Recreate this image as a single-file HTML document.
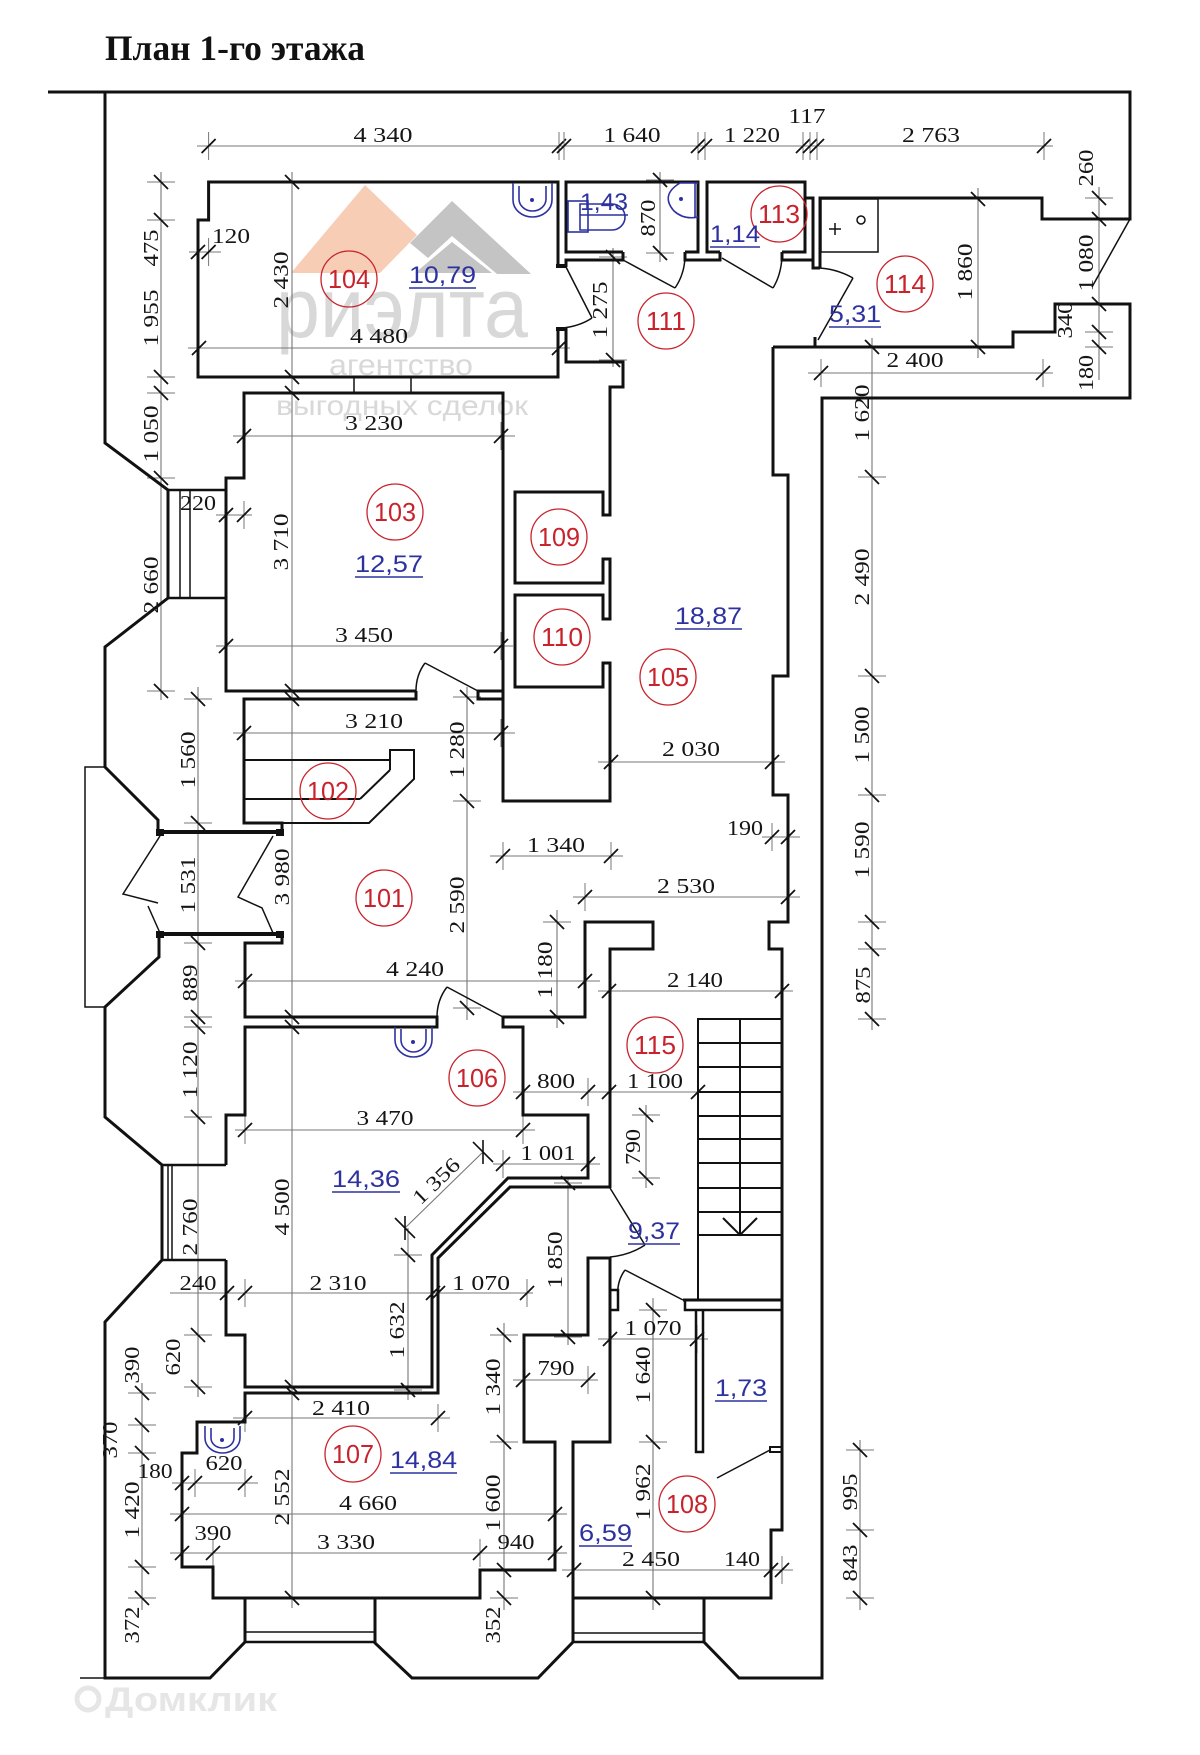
<!DOCTYPE html>
<html>
<head>
<meta charset="utf-8">
<style>
html,body{margin:0;padding:0;background:#fff;}
svg{display:block;}
.d{font-family:"Liberation Serif",serif;font-size:21px;fill:#151515;}
.r{font-family:"Liberation Sans",sans-serif;font-size:26px;fill:#c8232c;text-anchor:middle;}
.b{font-family:"Liberation Sans",sans-serif;font-size:24px;fill:#2d32a0;}
</style>
</head>
<body>
<svg xmlns="http://www.w3.org/2000/svg" width="1200" height="1755" viewBox="0 0 1200 1755">
<defs>
<g id="th"><line x1="0" y1="-14" x2="0" y2="14" stroke="#777" stroke-width="1"/><line x1="-7" y1="7" x2="7" y2="-7" stroke="#111" stroke-width="1.8"/></g>
<g id="tv"><line x1="-14" y1="0" x2="14" y2="0" stroke="#777" stroke-width="1"/><line x1="-7" y1="-7" x2="7" y2="7" stroke="#111" stroke-width="1.8"/></g>
</defs>
<rect width="1200" height="1755" fill="#fff"/>

<!-- watermark -->
<polygon points="291,273 365,185 417,235 380,273" fill="#f7cdb6"/>
<polygon points="410,243 452,201 531,274 497,274 452,236 428,258" fill="#c4c4c4"/>
<polygon points="415,273 452,242 492,273" fill="#c4c4c4"/>
<text x="276" y="337" font-family="Liberation Sans, sans-serif" font-size="84" fill="#d8d8d8" textLength="252" lengthAdjust="spacingAndGlyphs">риэлта</text>
<text x="329" y="375" font-family="Liberation Sans, sans-serif" font-size="30" fill="#d8d8d8" textLength="144" lengthAdjust="spacingAndGlyphs">агентство</text>
<text x="276" y="415" font-family="Liberation Sans, sans-serif" font-size="28" fill="#d8d8d8" textLength="252" lengthAdjust="spacingAndGlyphs">выгодных сделок</text>
<circle cx="88" cy="1699" r="11" fill="none" stroke="#e6e6e6" stroke-width="5"/>
<text x="105" y="1711" font-family="Liberation Sans, sans-serif" font-size="34" font-weight="bold" fill="#e6e6e6" textLength="172" lengthAdjust="spacingAndGlyphs">Домклик</text>

<!-- title -->
<text x="105" y="60" font-family="Liberation Serif, serif" font-size="36" font-weight="bold" fill="#111" textLength="260" lengthAdjust="spacingAndGlyphs">План 1-го этажа</text>

<!-- dimension lines -->
<g stroke="#777" stroke-width="1.1" fill="none">
<line x1="197" y1="146" x2="1053" y2="146"/>
<line x1="189" y1="252" x2="221" y2="252"/>
<line x1="188" y1="348" x2="570" y2="348"/>
<line x1="808" y1="373" x2="1053" y2="373"/>
<line x1="233" y1="436" x2="515" y2="436"/>
<line x1="216" y1="515" x2="252" y2="515"/>
<line x1="216" y1="646" x2="513" y2="646"/>
<line x1="233" y1="733" x2="515" y2="733"/>
<line x1="598" y1="762" x2="785" y2="762"/>
<line x1="762" y1="837" x2="800" y2="837"/>
<line x1="490" y1="856" x2="623" y2="856"/>
<line x1="573" y1="897" x2="800" y2="897"/>
<line x1="235" y1="981" x2="600" y2="981"/>
<line x1="598" y1="991" x2="793" y2="991"/>
<line x1="513" y1="1092" x2="710" y2="1092"/>
<line x1="235" y1="1130" x2="535" y2="1130"/>
<line x1="493" y1="1164" x2="600" y2="1164"/>
<line x1="170" y1="1293" x2="533" y2="1293"/>
<line x1="598" y1="1339" x2="708" y2="1339"/>
<line x1="513" y1="1380" x2="598" y2="1380"/>
<line x1="233" y1="1418" x2="450" y2="1418"/>
<line x1="172" y1="1483" x2="258" y2="1483"/>
<line x1="170" y1="1514" x2="567" y2="1514"/>
<line x1="170" y1="1553" x2="567" y2="1553"/>
<line x1="562" y1="1570" x2="793" y2="1570"/>
<line x1="161" y1="172" x2="161" y2="700"/>
<line x1="198" y1="687" x2="198" y2="1397"/>
<line x1="292" y1="172" x2="292" y2="1608"/>
<line x1="142" y1="1383" x2="142" y2="1610"/>
<line x1="467" y1="687" x2="467" y2="1020"/>
<line x1="557" y1="910" x2="557" y2="1028"/>
<line x1="613" y1="248" x2="613" y2="367"/>
<line x1="660" y1="172" x2="660" y2="262"/>
<line x1="978" y1="188" x2="978" y2="358"/>
<line x1="1099" y1="187" x2="1099" y2="380"/>
<line x1="872" y1="338" x2="872" y2="1030"/>
<line x1="646" y1="1105" x2="646" y2="1188"/>
<line x1="568" y1="1177" x2="568" y2="1345"/>
<line x1="408" y1="1228" x2="408" y2="1400"/>
<line x1="504" y1="1323" x2="504" y2="1610"/>
<line x1="653" y1="1298" x2="653" y2="1610"/>
<line x1="860" y1="1440" x2="860" y2="1610"/>
<line x1="405" y1="1228" x2="483" y2="1152"/>
</g>
<!-- diagonal dim ends -->
<g stroke="#111" stroke-width="1.6">
<line x1="395" y1="1218" x2="415" y2="1238"/><line x1="405" y1="1216" x2="405" y2="1240"/>
<line x1="473" y1="1142" x2="493" y2="1162"/><line x1="483" y1="1140" x2="483" y2="1164"/>
</g>

<!-- horizontal ticks -->
<g>
<use href="#th" x="208.6" y="146"/><use href="#th" x="559" y="146"/><use href="#th" x="564" y="146"/><use href="#th" x="698" y="146"/><use href="#th" x="705" y="146"/><use href="#th" x="803" y="146"/><use href="#th" x="810" y="146"/><use href="#th" x="817" y="146"/><use href="#th" x="1044" y="146"/>
<use href="#th" x="198" y="252"/><use href="#th" x="208.6" y="252"/>
<use href="#th" x="199" y="348"/><use href="#th" x="559" y="348"/>
<use href="#th" x="821" y="373"/><use href="#th" x="1043" y="373"/>
<use href="#th" x="244" y="436"/><use href="#th" x="501" y="436"/>
<use href="#th" x="226" y="515"/><use href="#th" x="244" y="515"/>
<use href="#th" x="226" y="646"/><use href="#th" x="501" y="646"/>
<use href="#th" x="244" y="733"/><use href="#th" x="501" y="733"/>
<use href="#th" x="611" y="762"/><use href="#th" x="772" y="762"/>
<use href="#th" x="772" y="837"/><use href="#th" x="788" y="837"/>
<use href="#th" x="503" y="856"/><use href="#th" x="611" y="856"/>
<use href="#th" x="585" y="897"/><use href="#th" x="788" y="897"/>
<use href="#th" x="245" y="981"/><use href="#th" x="585" y="981"/>
<use href="#th" x="609" y="991"/><use href="#th" x="782" y="991"/>
<use href="#th" x="523" y="1092"/><use href="#th" x="588" y="1092"/><use href="#th" x="609" y="1092"/><use href="#th" x="698" y="1092"/>
<use href="#th" x="245" y="1130"/><use href="#th" x="523" y="1130"/>
<use href="#th" x="503" y="1164"/><use href="#th" x="588" y="1164"/>
<use href="#th" x="227" y="1293"/><use href="#th" x="245" y="1293"/><use href="#th" x="433" y="1293"/><use href="#th" x="438" y="1293"/><use href="#th" x="527" y="1293"/>
<use href="#th" x="610" y="1339"/><use href="#th" x="697" y="1339"/>
<use href="#th" x="523" y="1380"/><use href="#th" x="588" y="1380"/>
<use href="#th" x="245" y="1418"/><use href="#th" x="438" y="1418"/>
<use href="#th" x="182" y="1483"/><use href="#th" x="195" y="1483"/><use href="#th" x="245" y="1483"/>
<use href="#th" x="182" y="1514"/><use href="#th" x="555" y="1514"/>
<use href="#th" x="182" y="1553"/><use href="#th" x="213" y="1553"/><use href="#th" x="480" y="1553"/><use href="#th" x="555" y="1553"/>
<use href="#th" x="574" y="1570"/><use href="#th" x="771" y="1570"/><use href="#th" x="782" y="1570"/>
</g>
<!-- vertical ticks -->
<g>
<use href="#tv" x="161" y="182"/><use href="#tv" x="161" y="220"/><use href="#tv" x="161" y="377"/><use href="#tv" x="161" y="393"/><use href="#tv" x="161" y="478"/><use href="#tv" x="161" y="691"/>
<use href="#tv" x="198" y="699"/><use href="#tv" x="198" y="823"/><use href="#tv" x="198" y="943"/><use href="#tv" x="198" y="1017"/><use href="#tv" x="198" y="1027"/><use href="#tv" x="198" y="1117"/><use href="#tv" x="198" y="1335"/><use href="#tv" x="198" y="1387"/>
<use href="#tv" x="292" y="182"/><use href="#tv" x="292" y="377"/><use href="#tv" x="292" y="393"/><use href="#tv" x="292" y="691"/><use href="#tv" x="292" y="699"/><use href="#tv" x="292" y="1017"/><use href="#tv" x="292" y="1027"/><use href="#tv" x="292" y="1387"/><use href="#tv" x="292" y="1393"/><use href="#tv" x="292" y="1598"/>
<use href="#tv" x="142" y="1393"/><use href="#tv" x="142" y="1425"/><use href="#tv" x="142" y="1453"/><use href="#tv" x="142" y="1567"/><use href="#tv" x="142" y="1598"/>
<use href="#tv" x="467" y="697"/><use href="#tv" x="467" y="801"/><use href="#tv" x="467" y="1008"/>
<use href="#tv" x="557" y="922"/><use href="#tv" x="557" y="1017"/>
<use href="#tv" x="613" y="257"/><use href="#tv" x="613" y="360"/>
<use href="#tv" x="660" y="180"/><use href="#tv" x="660" y="253"/>
<use href="#tv" x="978" y="199"/><use href="#tv" x="978" y="347"/>
<use href="#tv" x="1099" y="198"/><use href="#tv" x="1099" y="219"/><use href="#tv" x="1099" y="304"/><use href="#tv" x="1099" y="332"/><use href="#tv" x="1099" y="347"/>
<use href="#tv" x="872" y="347"/><use href="#tv" x="872" y="477"/><use href="#tv" x="872" y="676"/><use href="#tv" x="872" y="795"/><use href="#tv" x="872" y="922"/><use href="#tv" x="872" y="949"/><use href="#tv" x="872" y="1019"/>
<use href="#tv" x="646" y="1115"/><use href="#tv" x="646" y="1178"/>
<use href="#tv" x="568" y="1183"/><use href="#tv" x="568" y="1337"/>
<use href="#tv" x="408" y="1255"/><use href="#tv" x="408" y="1390"/>
<use href="#tv" x="504" y="1335"/><use href="#tv" x="504" y="1442"/><use href="#tv" x="504" y="1570"/><use href="#tv" x="504" y="1598"/>
<use href="#tv" x="653" y="1310"/><use href="#tv" x="653" y="1442"/><use href="#tv" x="653" y="1598"/>
<use href="#tv" x="860" y="1450"/><use href="#tv" x="860" y="1530"/><use href="#tv" x="860" y="1598"/>
</g>

<!-- walls -->
<g fill="none" stroke="#111" stroke-width="3" stroke-linejoin="miter">
<polyline points="48,92 1130,92 1130,219 1042,219 1042,198 820,198 820,268"/>
<polyline points="773,347 1013,347 1013,332 1055,332 1055,304 1130,304 1130,398 822,398 822,1678 739,1678 704,1642 704,1598"/>
<polyline points="105,92 105,443 168,490 168,598 105,647 105,767 158,820 158,832"/>
<polyline points="159,934 159,957 105,1007 105,1117 162,1165 162,1260 105,1322 105,1678 210,1678 245,1642 245,1598"/>
<polyline points="375,1598 375,1643 412,1678 538,1678 573,1642 573,1598"/>
<polyline points="558,267 558,182 208.6,182 208.6,220 198,220 198,377 558,377 558,328"/>
<polyline points="623,252 566,252 566,182 698,182 698,252 685,252"/>
<polyline points="720,252 707,252 707,182 805,182 805,252 782,252"/>
<polyline points="805,198 813,198 813,260"/>
<polyline points="566,267 566,260 623,260 623,252"/>
<polyline points="685,252 685,260 720,260 720,252"/>
<polyline points="782,252 782,260 813,260 813,268 820,268"/>
<polyline points="815,337 815,347"/>
<polyline points="416,691 226,691 226,478 244,478 244,393 503,393 503,801 610,801 610,663 603,663 603,687 515,687 515,595 603,595 603,619 610,619 610,559 603,559 603,583 515,583 515,492 603,492 603,515 610,515 610,387 623,387 623,362 566,362 566,328"/>
<polyline points="503,691 478,691 478,699 503,699"/>
<polyline points="416,691 416,699 244,699 244,823 282,823 282,835"/>
<polyline points="282,934 282,943 245,943 245,1017 437,1017 437,1027 245,1027 245,1115 226,1115 226,1165"/>
<polyline points="226,1260 226,1335 245,1335 245,1387 432,1387 432,1255 508,1178 588,1178 588,1115 523,1115 523,1027 503,1027 503,1017 585,1017 585,922 653,922 653,949 610,949 610,1188"/>
<polyline points="773,347 773,475 788,475 788,676 773,676 773,795 788,795 788,922 769,922 769,949 782,949 782,1530 771,1530 771,1598 573,1598 573,1442 610,1442 610,1258 588,1258 588,1335 524,1335 524,1442 555,1442 555,1570 480,1570 480,1598 213,1598 213,1567 182,1567 182,1453 197,1453 197,1422 245,1422 245,1393 438,1393 438,1258 510,1187 610,1187"/>
<polyline points="683,1300 782,1300"/>
<polyline points="685,1300 685,1310 782,1310" stroke-width="2.5"/>
<polyline points="610,1290 618,1290 618,1310 610,1310" stroke-width="2.5"/>
<polyline points="696,1310 696,1452 703,1452 703,1310" stroke-width="2.5"/>
<rect x="770" y="1447" width="12" height="5" stroke-width="2"/>
<line x1="158" y1="832" x2="282" y2="832" stroke-width="4"/>
<line x1="158" y1="934" x2="282" y2="934" stroke-width="4"/>
</g>

<!-- thin structural lines: windows, porch, stairs -->
<g fill="none" stroke="#111" stroke-width="1.5">
<line x1="1130" y1="219" x2="1092" y2="287"/>
<polyline points="105,767 85,767 85,1007 105,1007"/>
<line x1="168" y1="490" x2="226" y2="490" stroke-width="2.5"/>
<line x1="168" y1="598" x2="226" y2="598" stroke-width="2.5"/>
<line x1="180" y1="490" x2="180" y2="598"/>
<line x1="190" y1="490" x2="190" y2="598"/>
<line x1="162" y1="1165" x2="226" y2="1165" stroke-width="2.5"/>
<line x1="162" y1="1260" x2="226" y2="1260" stroke-width="2.5"/>
<line x1="168" y1="1165" x2="168" y2="1260"/>
<line x1="172" y1="1165" x2="172" y2="1260"/>
<line x1="245" y1="1632" x2="375" y2="1632"/>
<line x1="245" y1="1642" x2="375" y2="1642" stroke-width="2.5"/>
<line x1="573" y1="1633" x2="704" y2="1633"/>
<line x1="573" y1="1642" x2="704" y2="1642" stroke-width="2.5"/>
<line x1="80" y1="1678" x2="105" y2="1678"/>
<line x1="354" y1="377" x2="354" y2="393"/>
<line x1="411" y1="377" x2="411" y2="393"/>
<!-- stair 102 -->
<line x1="244" y1="760" x2="390" y2="760" stroke-width="2"/>
<line x1="244" y1="799" x2="360" y2="799" stroke-width="2"/>
<polyline points="390,770 390,750 414,750 414,779 369,823 282,823" stroke-width="2"/>
<polyline points="390,770 360,799" stroke-width="2"/>
<!-- stair 115 -->
<polyline points="698,1300 698,1019 782,1019" stroke-width="2"/>
<line x1="740" y1="1019" x2="740" y2="1235" stroke-width="2"/>
<g stroke-width="2">
<line x1="698" y1="1043" x2="782" y2="1043"/><line x1="698" y1="1067" x2="782" y2="1067"/><line x1="698" y1="1092" x2="782" y2="1092"/><line x1="698" y1="1116" x2="782" y2="1116"/><line x1="698" y1="1139" x2="782" y2="1139"/><line x1="698" y1="1163" x2="782" y2="1163"/><line x1="698" y1="1188" x2="782" y2="1188"/><line x1="698" y1="1212" x2="782" y2="1212"/><line x1="698" y1="1235" x2="782" y2="1235"/>
</g>
<polyline points="723,1218 740,1235 757,1218" stroke-width="2"/>
<!-- doors -->
<line x1="566" y1="267" x2="592" y2="318"/><path d="M592,318 Q580,326 563,328"/>
<line x1="623" y1="260" x2="675" y2="288"/><path d="M675,288 Q684,275 685,258"/>
<line x1="722" y1="258" x2="773" y2="288"/><path d="M773,288 Q781,275 782,257"/>
<line x1="818" y1="340" x2="853" y2="278"/><path d="M853,278 Q835,268 816,268"/>
<line x1="478" y1="691" x2="425" y2="663"/><path d="M425,663 Q416,675 416,691"/>
<line x1="503" y1="1017" x2="447" y2="987"/><path d="M447,987 Q437,1000 437,1017"/>
<line x1="610" y1="1188" x2="645" y2="1245"/><path d="M645,1245 Q630,1255 610,1257"/>
<line x1="683" y1="1300" x2="625" y2="1270"/><path d="M625,1270 Q616,1282 618,1300"/>
<line x1="770" y1="1450" x2="717" y2="1478"/>
<polyline points="160,836 123,894 158,903"/>
<polyline points="148,906 160,933"/>
<polyline points="273,836 238,897 262,908 273,933"/>
<!-- 114 fixture -->
<rect x="821" y="199" width="57" height="53"/>
<circle cx="861" cy="220" r="4"/>
<line x1="829" y1="229" x2="841" y2="229"/><line x1="835" y1="223" x2="835" y2="235"/>
</g>
<!-- jamb caps -->
<g fill="#111">
<rect x="156" y="829" width="8" height="7"/><rect x="276" y="829" width="8" height="7"/>
<rect x="156" y="931" width="8" height="7"/><rect x="276" y="931" width="8" height="7"/>
<rect x="556" y="264" width="10" height="4"/><rect x="556" y="327" width="10" height="4"/>
</g>

<!-- blue fixtures -->
<g fill="none" stroke="#2d32a0" stroke-width="1.6">
<path d="M513,183 V200 A19.5,17 0 0 0 552,200 V183"/>
<path d="M519,186 V199 A13.5,12 0 0 0 546,199 V186"/>
<path d="M395,1027 V1040 A18.5,17 0 0 0 432,1040 V1027"/>
<path d="M401,1029 V1040 A12.5,12 0 0 0 426,1040 V1029"/>
<path d="M205,1426 V1438 A17.5,15 0 0 0 240,1438 V1426"/>
<path d="M211,1428 V1438 A11.5,10 0 0 0 234,1438 V1428"/>
<rect x="568" y="201" width="20" height="31"/>
<path d="M580,204 H612 A13,13 0 0 1 612,230 H580 Z"/>
<path d="M698,183 H680 Q660,195 674,211 Q684,220 698,217"/>
<line x1="695" y1="183" x2="695" y2="217"/>
</g>
<g fill="#2d32a0">
<circle cx="532" cy="200" r="2"/><circle cx="413" cy="1042" r="2"/><circle cx="222" cy="1440" r="2"/><circle cx="681" cy="199" r="2"/>
</g>

<!-- horizontal dimension texts -->
<g class="d" text-anchor="middle">
<text x="383" y="142" textLength="59" lengthAdjust="spacingAndGlyphs">4 340</text>
<text x="632" y="142" textLength="57" lengthAdjust="spacingAndGlyphs">1 640</text>
<text x="752" y="142" textLength="56" lengthAdjust="spacingAndGlyphs">1 220</text>
<text x="807" y="123" textLength="37" lengthAdjust="spacingAndGlyphs">117</text>
<text x="931" y="142" textLength="58" lengthAdjust="spacingAndGlyphs">2 763</text>
<text x="231" y="243" textLength="38" lengthAdjust="spacingAndGlyphs">120</text>
<text x="379" y="343" textLength="58" lengthAdjust="spacingAndGlyphs">4 480</text>
<text x="915" y="367" textLength="57" lengthAdjust="spacingAndGlyphs">2 400</text>
<text x="374" y="430" textLength="58" lengthAdjust="spacingAndGlyphs">3 230</text>
<text x="198" y="510" textLength="36" lengthAdjust="spacingAndGlyphs">220</text>
<text x="364" y="642" textLength="58" lengthAdjust="spacingAndGlyphs">3 450</text>
<text x="374" y="728" textLength="58" lengthAdjust="spacingAndGlyphs">3 210</text>
<text x="691" y="756" textLength="58" lengthAdjust="spacingAndGlyphs">2 030</text>
<text x="745" y="835" textLength="36" lengthAdjust="spacingAndGlyphs">190</text>
<text x="556" y="852" textLength="58" lengthAdjust="spacingAndGlyphs">1 340</text>
<text x="686" y="893" textLength="58" lengthAdjust="spacingAndGlyphs">2 530</text>
<text x="415" y="976" textLength="58" lengthAdjust="spacingAndGlyphs">4 240</text>
<text x="695" y="987" textLength="56" lengthAdjust="spacingAndGlyphs">2 140</text>
<text x="556" y="1088" textLength="38" lengthAdjust="spacingAndGlyphs">800</text>
<text x="655" y="1088" textLength="56" lengthAdjust="spacingAndGlyphs">1 100</text>
<text x="385" y="1125" textLength="57" lengthAdjust="spacingAndGlyphs">3 470</text>
<text x="548" y="1160" textLength="55" lengthAdjust="spacingAndGlyphs">1 001</text>
<text x="198" y="1290" textLength="37" lengthAdjust="spacingAndGlyphs">240</text>
<text x="338" y="1290" textLength="57" lengthAdjust="spacingAndGlyphs">2 310</text>
<text x="481" y="1290" textLength="58" lengthAdjust="spacingAndGlyphs">1 070</text>
<text x="653" y="1335" textLength="57" lengthAdjust="spacingAndGlyphs">1 070</text>
<text x="556" y="1375" textLength="37" lengthAdjust="spacingAndGlyphs">790</text>
<text x="341" y="1415" textLength="58" lengthAdjust="spacingAndGlyphs">2 410</text>
<text x="224" y="1470" textLength="37" lengthAdjust="spacingAndGlyphs">620</text>
<text x="155" y="1478" textLength="35" lengthAdjust="spacingAndGlyphs">180</text>
<text x="368" y="1510" textLength="58" lengthAdjust="spacingAndGlyphs">4 660</text>
<text x="213" y="1540" textLength="37" lengthAdjust="spacingAndGlyphs">390</text>
<text x="346" y="1549" textLength="58" lengthAdjust="spacingAndGlyphs">3 330</text>
<text x="516" y="1549" textLength="37" lengthAdjust="spacingAndGlyphs">940</text>
<text x="651" y="1566" textLength="58" lengthAdjust="spacingAndGlyphs">2 450</text>
<text x="742" y="1566" textLength="36" lengthAdjust="spacingAndGlyphs">140</text>
<text transform="translate(441,1186) rotate(-44)" textLength="57" lengthAdjust="spacingAndGlyphs">1 356</text>
</g>

<!-- vertical dimension texts -->
<g class="d" text-anchor="middle">
<text transform="translate(158,248) rotate(-90)" textLength="37" lengthAdjust="spacingAndGlyphs">475</text>
<text transform="translate(158,318) rotate(-90)" textLength="57" lengthAdjust="spacingAndGlyphs">1 955</text>
<text transform="translate(158,434) rotate(-90)" textLength="57" lengthAdjust="spacingAndGlyphs">1 050</text>
<text transform="translate(158,585) rotate(-90)" textLength="57" lengthAdjust="spacingAndGlyphs">2 660</text>
<text transform="translate(288,280) rotate(-90)" textLength="57" lengthAdjust="spacingAndGlyphs">2 430</text>
<text transform="translate(288,542) rotate(-90)" textLength="57" lengthAdjust="spacingAndGlyphs">3 710</text>
<text transform="translate(607,310) rotate(-90)" textLength="57" lengthAdjust="spacingAndGlyphs">1 275</text>
<text transform="translate(655,218) rotate(-90)" textLength="37" lengthAdjust="spacingAndGlyphs">870</text>
<text transform="translate(972,272) rotate(-90)" textLength="57" lengthAdjust="spacingAndGlyphs">1 860</text>
<text transform="translate(1093,168) rotate(-90)" textLength="37" lengthAdjust="spacingAndGlyphs">260</text>
<text transform="translate(1093,263) rotate(-90)" textLength="57" lengthAdjust="spacingAndGlyphs">1 080</text>
<text transform="translate(1072,320) rotate(-90)" textLength="37" lengthAdjust="spacingAndGlyphs">340</text>
<text transform="translate(1093,373) rotate(-90)" textLength="36" lengthAdjust="spacingAndGlyphs">180</text>
<text transform="translate(869,413) rotate(-90)" textLength="57" lengthAdjust="spacingAndGlyphs">1 620</text>
<text transform="translate(869,577) rotate(-90)" textLength="57" lengthAdjust="spacingAndGlyphs">2 490</text>
<text transform="translate(869,735) rotate(-90)" textLength="57" lengthAdjust="spacingAndGlyphs">1 500</text>
<text transform="translate(869,850) rotate(-90)" textLength="57" lengthAdjust="spacingAndGlyphs">1 590</text>
<text transform="translate(870,985) rotate(-90)" textLength="37" lengthAdjust="spacingAndGlyphs">875</text>
<text transform="translate(195,760) rotate(-90)" textLength="57" lengthAdjust="spacingAndGlyphs">1 560</text>
<text transform="translate(464,750) rotate(-90)" textLength="57" lengthAdjust="spacingAndGlyphs">1 280</text>
<text transform="translate(195,885) rotate(-90)" textLength="57" lengthAdjust="spacingAndGlyphs">1 531</text>
<text transform="translate(289,877) rotate(-90)" textLength="57" lengthAdjust="spacingAndGlyphs">3 980</text>
<text transform="translate(464,905) rotate(-90)" textLength="57" lengthAdjust="spacingAndGlyphs">2 590</text>
<text transform="translate(552,970) rotate(-90)" textLength="57" lengthAdjust="spacingAndGlyphs">1 180</text>
<text transform="translate(197,983) rotate(-90)" textLength="37" lengthAdjust="spacingAndGlyphs">889</text>
<text transform="translate(197,1070) rotate(-90)" textLength="57" lengthAdjust="spacingAndGlyphs">1 120</text>
<text transform="translate(640,1147) rotate(-90)" textLength="36" lengthAdjust="spacingAndGlyphs">790</text>
<text transform="translate(289,1207) rotate(-90)" textLength="57" lengthAdjust="spacingAndGlyphs">4 500</text>
<text transform="translate(197,1227) rotate(-90)" textLength="57" lengthAdjust="spacingAndGlyphs">2 760</text>
<text transform="translate(562,1260) rotate(-90)" textLength="57" lengthAdjust="spacingAndGlyphs">1 850</text>
<text transform="translate(404,1330) rotate(-90)" textLength="57" lengthAdjust="spacingAndGlyphs">1 632</text>
<text transform="translate(180,1357) rotate(-90)" textLength="37" lengthAdjust="spacingAndGlyphs">620</text>
<text transform="translate(139,1365) rotate(-90)" textLength="37" lengthAdjust="spacingAndGlyphs">390</text>
<text transform="translate(650,1375) rotate(-90)" textLength="57" lengthAdjust="spacingAndGlyphs">1 640</text>
<text transform="translate(500,1387) rotate(-90)" textLength="57" lengthAdjust="spacingAndGlyphs">1 340</text>
<text transform="translate(117,1440) rotate(-90)" textLength="37" lengthAdjust="spacingAndGlyphs">370</text>
<text transform="translate(650,1492) rotate(-90)" textLength="57" lengthAdjust="spacingAndGlyphs">1 962</text>
<text transform="translate(289,1497) rotate(-90)" textLength="57" lengthAdjust="spacingAndGlyphs">2 552</text>
<text transform="translate(857,1492) rotate(-90)" textLength="37" lengthAdjust="spacingAndGlyphs">995</text>
<text transform="translate(500,1503) rotate(-90)" textLength="57" lengthAdjust="spacingAndGlyphs">1 600</text>
<text transform="translate(139,1510) rotate(-90)" textLength="57" lengthAdjust="spacingAndGlyphs">1 420</text>
<text transform="translate(857,1563) rotate(-90)" textLength="37" lengthAdjust="spacingAndGlyphs">843</text>
<text transform="translate(139,1625) rotate(-90)" textLength="37" lengthAdjust="spacingAndGlyphs">372</text>
<text transform="translate(500,1625) rotate(-90)" textLength="37" lengthAdjust="spacingAndGlyphs">352</text>
</g>

<!-- room number circles -->
<g fill="none" stroke="#c8232c" stroke-width="1.3">
<circle cx="349" cy="279" r="28"/><circle cx="666" cy="321" r="28"/><circle cx="779" cy="214" r="28"/><circle cx="905" cy="284" r="28"/>
<circle cx="395" cy="512" r="28"/><circle cx="559" cy="537" r="28"/><circle cx="562" cy="637" r="28"/><circle cx="668" cy="677" r="28"/>
<circle cx="328" cy="791" r="28"/><circle cx="384" cy="898" r="28"/><circle cx="477" cy="1078" r="28"/><circle cx="655" cy="1045" r="28"/>
<circle cx="353" cy="1454" r="28"/><circle cx="687" cy="1504" r="28"/>
</g>
<g class="r">
<text x="349" y="288" textLength="42" lengthAdjust="spacingAndGlyphs">104</text>
<text x="666" y="330" textLength="40" lengthAdjust="spacingAndGlyphs">111</text>
<text x="779" y="223" textLength="42" lengthAdjust="spacingAndGlyphs">113</text>
<text x="905" y="293" textLength="42" lengthAdjust="spacingAndGlyphs">114</text>
<text x="395" y="521" textLength="42" lengthAdjust="spacingAndGlyphs">103</text>
<text x="559" y="546" textLength="42" lengthAdjust="spacingAndGlyphs">109</text>
<text x="562" y="646" textLength="42" lengthAdjust="spacingAndGlyphs">110</text>
<text x="668" y="686" textLength="42" lengthAdjust="spacingAndGlyphs">105</text>
<text x="328" y="800" textLength="42" lengthAdjust="spacingAndGlyphs">102</text>
<text x="384" y="907" textLength="42" lengthAdjust="spacingAndGlyphs">101</text>
<text x="477" y="1087" textLength="42" lengthAdjust="spacingAndGlyphs">106</text>
<text x="655" y="1054" textLength="42" lengthAdjust="spacingAndGlyphs">115</text>
<text x="353" y="1463" textLength="42" lengthAdjust="spacingAndGlyphs">107</text>
<text x="687" y="1513" textLength="42" lengthAdjust="spacingAndGlyphs">108</text>
</g>

<!-- area labels -->
<g class="b">
<text x="409" y="283" textLength="67" lengthAdjust="spacingAndGlyphs">10,79</text>
<text x="580" y="210" textLength="48" lengthAdjust="spacingAndGlyphs">1,43</text>
<text x="710" y="242" textLength="50" lengthAdjust="spacingAndGlyphs">1,14</text>
<text x="829" y="322" textLength="52" lengthAdjust="spacingAndGlyphs">5,31</text>
<text x="355" y="572" textLength="68" lengthAdjust="spacingAndGlyphs">12,57</text>
<text x="675" y="624" textLength="67" lengthAdjust="spacingAndGlyphs">18,87</text>
<text x="332" y="1187" textLength="68" lengthAdjust="spacingAndGlyphs">14,36</text>
<text x="628" y="1239" textLength="52" lengthAdjust="spacingAndGlyphs">9,37</text>
<text x="715" y="1396" textLength="52" lengthAdjust="spacingAndGlyphs">1,73</text>
<text x="390" y="1468" textLength="67" lengthAdjust="spacingAndGlyphs">14,84</text>
<text x="579" y="1541" textLength="53" lengthAdjust="spacingAndGlyphs">6,59</text>
</g>
<g stroke="#2d32a0" stroke-width="1.5">
<line x1="409" y1="288" x2="476" y2="288"/>
<line x1="580" y1="215" x2="628" y2="215"/>
<line x1="710" y1="247" x2="760" y2="247"/>
<line x1="829" y1="327" x2="881" y2="327"/>
<line x1="355" y1="577" x2="423" y2="577"/>
<line x1="675" y1="629" x2="742" y2="629"/>
<line x1="332" y1="1192" x2="400" y2="1192"/>
<line x1="628" y1="1244" x2="680" y2="1244"/>
<line x1="715" y1="1401" x2="767" y2="1401"/>
<line x1="390" y1="1473" x2="457" y2="1473"/>
<line x1="579" y1="1546" x2="632" y2="1546"/>
</g>
</svg>
</body>
</html>
